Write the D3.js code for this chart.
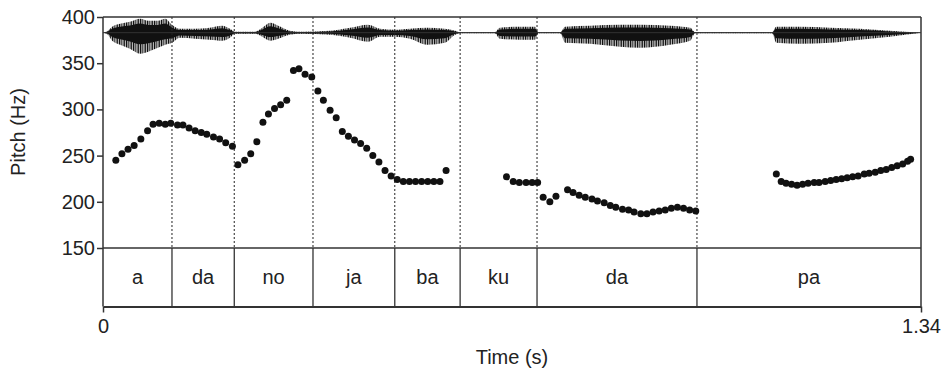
<!DOCTYPE html>
<html>
<head>
<meta charset="utf-8">
<script src="https://cdn.jsdelivr.net/npm/d3@7"></script>
<style>
    body { margin: 0; background: #fff; }
    text { font-family: "Liberation Sans", Arial, sans-serif; fill: #222; }
</style>
</head>
<body>
<script>
// syllable tier
var syllables = ["a", "da", "no", "ja", "ba", "ku", "da", "pa"];
var boundaries = [0, 0.113, 0.215, 0.344, 0.478, 0.585, 0.711, 0.973, 1.34];

// pitch track, one array per voiced stretch (time s, pitch Hz)
var seg1Time = [0.021, 0.031, 0.041, 0.051, 0.062, 0.073, 0.082, 0.092, 0.102, 0.111,
    0.122, 0.131, 0.141, 0.151, 0.161, 0.170, 0.181, 0.191, 0.201, 0.212];
var seg1Hz = [245, 252, 257, 261, 268, 277, 284, 285, 284, 285,
    283, 283, 280, 277, 275, 273, 270, 268, 264, 260];

var seg2Time = [0.221, 0.232, 0.242, 0.252, 0.262, 0.271, 0.281, 0.291, 0.301, 0.312,
    0.321, 0.331, 0.342, 0.352, 0.361, 0.372, 0.382, 0.392, 0.402, 0.412,
    0.422, 0.432, 0.442, 0.452, 0.462, 0.472, 0.482, 0.492, 0.502, 0.512,
    0.522, 0.532, 0.542, 0.552, 0.562];
var seg2Hz = [240, 245, 252, 265, 286, 295, 301, 305, 310, 342,
    344, 338, 335, 320, 310, 299, 291, 276, 271, 267,
    263, 258, 250, 243, 234, 228, 224, 222, 222, 222,
    222, 222, 222, 222, 234];

var seg3Time = [0.661, 0.672, 0.682, 0.693, 0.703, 0.712];
var seg3Hz = [227, 222, 221, 221, 221, 221];

var seg4Time = [0.721, 0.732, 0.742, 0.761, 0.770, 0.780, 0.790, 0.801, 0.810, 0.821,
    0.831, 0.840, 0.851, 0.861, 0.870, 0.881, 0.891, 0.901, 0.911, 0.921,
    0.931, 0.941, 0.951, 0.961, 0.971];
var seg4Hz = [205, 200, 206, 213, 210, 207, 205, 203, 201, 199,
    196, 194, 192, 191, 189, 187, 187, 189, 190, 191,
    193, 194, 193, 191, 190];

var seg5Time = [1.103, 1.111, 1.119, 1.128, 1.137, 1.146, 1.155, 1.165, 1.173, 1.183,
    1.192, 1.201, 1.210, 1.219, 1.228, 1.237, 1.247, 1.255, 1.265, 1.274,
    1.283, 1.292, 1.301, 1.310, 1.318, 1.323];
var seg5Hz = [230, 222, 220, 219, 218, 219, 220, 221, 221, 222,
    223, 224, 225, 226, 227, 228, 230, 231, 232, 234,
    235, 237, 239, 241, 244, 246];

// waveform envelope (time s, upper / lower amplitude)
var waveTime = [0, 0.008, 0.015, 0.028, 0.044, 0.061, 0.074, 0.090, 0.102, 0.113,
    0.126, 0.151, 0.175, 0.195, 0.208, 0.216, 0.249, 0.261, 0.274, 0.287,
    0.306, 0.323, 0.372, 0.405, 0.434, 0.454, 0.478, 0.503, 0.531, 0.560,
    0.577, 0.585, 0.642, 0.650, 0.683, 0.708, 0.713, 0.749, 0.757, 0.798,
    0.847, 0.880, 0.929, 0.962, 0.970, 1.096, 1.103, 1.142, 1.191, 1.240,
    1.289, 1.34];
var waveUp = [0, 2, 6, 9, 11, 14, 12, 12, 14, 8,
    4, 4, 5, 7, 4, 1, 1, 5, 10, 7,
    2, 1, 2, 5, 8, 4, 3, 4, 5, 4,
    2, 0.5, 0.5, 5, 6, 6, 0.5, 0.5, 6, 7,
    8, 8, 7, 5, 0.5, 0.5, 6, 6, 5, 4,
    2, 0];
var waveDown = [0, 2, 8, 12, 16, 21, 19, 15, 12, 10,
    5, 6, 7, 8, 5, 1, 1, 4, 8, 6,
    2, 1, 2, 5, 9, 4, 4, 6, 12, 10,
    2, 0.5, 0.5, 6, 7, 7, 0.5, 0.5, 10, 11,
    14, 15, 12, 8, 0.5, 0.5, 10, 11, 10, 7,
    4, 0];

var yTicks = [150, 200, 250, 300, 350, 400];

var svg = d3.select("body").append("svg")
    .attr("width", 947)
    .attr("height", 372);

var x = d3.scaleLinear().domain([0, 1.34]).range([103, 921]);
var y = d3.scaleLinear().domain([150, 400]).range([248, 17]);
var tierBottom = 306.5;

// waveform
var wy = d3.scaleLinear().domain([-22, 22]).range([32.7 + 22, 32.7 - 22]);
var waveData = waveTime.map(function(t, i) {
    return { t: t, up: waveUp[i], down: waveDown[i] };
});

var defs = svg.append("defs");
var pat = defs.append("pattern")
    .attr("id", "stripes")
    .attr("patternUnits", "userSpaceOnUse")
    .attr("width", 7)
    .attr("height", 10);
pat.append("rect").attr("width", 7).attr("height", 10).attr("fill", "#b5b5b5");
pat.append("rect").attr("x", 0).attr("width", 1.2).attr("height", 10).attr("fill", "#111");
pat.append("rect").attr("x", 2.3).attr("width", 0.9).attr("height", 10).attr("fill", "#333");
pat.append("rect").attr("x", 4.6).attr("width", 1.3).attr("height", 10).attr("fill", "#1a1a1a");

svg.append("path")
    .datum(waveData)
    .attr("fill", "url(#stripes)")
    .attr("d", d3.area()
        .curve(d3.curveMonotoneX)
        .x(function(d) { return x(d.t); })
        .y0(function(d) { return wy(-d.down); })
        .y1(function(d) { return wy(d.up); }));

svg.append("path")
    .datum(waveData)
    .attr("fill", "#111")
    .attr("d", d3.area()
        .curve(d3.curveMonotoneX)
        .x(function(d) { return x(d.t); })
        .y0(function(d) { return wy(-d.down * 0.55); })
        .y1(function(d) { return wy(d.up * 0.65); }));

svg.append("line")
    .attr("x1", x(0)).attr("x2", x(1.34))
    .attr("y1", wy(0)).attr("y2", wy(0))
    .attr("stroke", "#333")
    .attr("stroke-width", 1);

// boundaries: dotted above tier, solid inside tier
var inner = boundaries.slice(1, boundaries.length - 1);
svg.selectAll("line.dotted")
    .data(inner)
    .enter()
    .append("line")
    .attr("class", "dotted")
    .attr("x1", function(d) { return x(d); })
    .attr("x2", function(d) { return x(d); })
    .attr("y1", y(400))
    .attr("y2", y(150))
    .attr("stroke", "#222")
    .attr("stroke-width", 1)
    .attr("stroke-dasharray", "2,2");

svg.selectAll("line.solid")
    .data(inner)
    .enter()
    .append("line")
    .attr("class", "solid")
    .attr("x1", function(d) { return x(d); })
    .attr("x2", function(d) { return x(d); })
    .attr("y1", y(150))
    .attr("y2", tierBottom)
    .attr("stroke", "#222")
    .attr("stroke-width", 1.2);

svg.selectAll("text.syl")
    .data(syllables)
    .enter()
    .append("text")
    .attr("class", "syl")
    .attr("x", function(d, i) { return (x(boundaries[i]) + x(boundaries[i + 1])) / 2; })
    .attr("y", (y(150) + tierBottom) / 2)
    .attr("dy", "0.35em")
    .attr("text-anchor", "middle")
    .attr("font-size", 20)
    .text(function(d) { return d; });

// pitch points
var pitch = [];
[[seg1Time, seg1Hz], [seg2Time, seg2Hz], [seg3Time, seg3Hz], [seg4Time, seg4Hz], [seg5Time, seg5Hz]]
    .forEach(function(s) {
        s[0].forEach(function(t, i) {
            pitch.push({ t: t, hz: s[1][i] });
        });
    });

svg.selectAll("circle")
    .data(pitch)
    .enter()
    .append("circle")
    .attr("cx", function(d) { return x(d.t); })
    .attr("cy", function(d) { return y(d.hz); })
    .attr("r", 3.5)
    .attr("fill", "#111");

// frame
svg.append("line")
    .attr("x1", x(0)).attr("x2", x(1.34))
    .attr("y1", y(400)).attr("y2", y(400))
    .attr("stroke", "#333").attr("stroke-width", 1.5);
svg.append("line")
    .attr("x1", x(0)).attr("x2", x(1.34))
    .attr("y1", y(150)).attr("y2", y(150))
    .attr("stroke", "#333").attr("stroke-width", 1.5);
svg.append("line")
    .attr("x1", x(1.34)).attr("x2", x(1.34))
    .attr("y1", y(400)).attr("y2", tierBottom)
    .attr("stroke", "#333").attr("stroke-width", 1.5);

// y axis
var yAxis = svg.append("g")
    .attr("transform", "translate(" + x(0) + ",0)")
    .call(d3.axisLeft(y).tickValues(yTicks).tickSize(6).tickPadding(2));
yAxis.select(".domain").remove();
yAxis.append("line")
    .attr("x1", 0).attr("x2", 0)
    .attr("y1", y(400)).attr("y2", tierBottom)
    .attr("stroke", "#333").attr("stroke-width", 1.5);
yAxis.selectAll(".tick line").attr("stroke", "#333").attr("stroke-width", 1.5);
yAxis.selectAll(".tick text")
    .attr("font-size", 20)
    .attr("font-family", "Liberation Sans, Arial, sans-serif")
    .attr("fill", "#222");

// x axis
var xAxis = svg.append("g")
    .attr("transform", "translate(0," + tierBottom + ")")
    .call(d3.axisBottom(x).tickValues([0, 1.34]).tickFormat(function(d) { return d === 0 ? "0" : "1.34"; })
        .tickSize(6).tickSizeOuter(0).tickPadding(6));
xAxis.select(".domain").attr("stroke", "#333").attr("stroke-width", 2);
xAxis.selectAll(".tick line").attr("stroke", "#333").attr("stroke-width", 1.5);
xAxis.selectAll(".tick text")
    .attr("font-size", 20)
    .attr("font-family", "Liberation Sans, Arial, sans-serif")
    .attr("fill", "#222");

svg.append("text")
    .attr("transform", "translate(25," + 132 + ") rotate(-90)")
    .attr("text-anchor", "middle")
    .attr("font-size", 20)
    .text("Pitch (Hz)");

svg.append("text")
    .attr("x", 512)
    .attr("y", 364)
    .attr("text-anchor", "middle")
    .attr("font-size", 20)
    .text("Time (s)");
</script>
</body>
</html>
